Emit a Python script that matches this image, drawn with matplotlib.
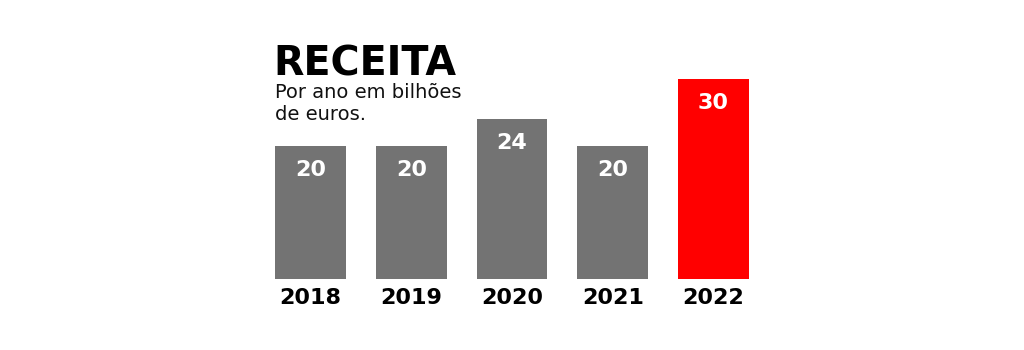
import matplotlib.pyplot as plt

# data
years = ['2018', '2019', '2020', '2021', '2022']
receita = [20, 20, 24, 20, 30]
colors = ['#737373', '#737373', '#737373', '#737373', '#ff0000']

plt.rcParams['font.family'] = ['DejaVu Sans']

fig = plt.figure(figsize=(10.24, 3.5), dpi=100)
ax = fig.add_axes([0, 0, 1, 1])

pos = list(range(len(years)))
ax.bar(pos, receita, width=0.70, color=colors)

# px scale: bars 100.75 px apart, 6.67 px per unit
ax.set_xlim(-310.5 / 100.75, (1024 - 310.5) / 100.75)
ax.set_ylim(-71 / 6.67, 279 / 6.67)
ax.axis('off')

for x, v, y in zip(pos, receita, years):
    ax.text(x, v - 2.1, str(v), ha='center', va='top', color='white',
            fontsize=16, fontweight='bold')
    ax.text(x, -1.4, y, ha='center', va='top', color='black',
            fontsize=16, fontweight='bold')

fig.text(273 / 1024, 1 - 75 / 350, 'RECEITA', ha='left', va='baseline',
         fontsize=28.5, fontweight='bold', color='black')
fig.text(275 / 1024, 1 - 120 / 350, 'Por ano em bilhões\nde euros.', ha='left',
         va='baseline', fontsize=14, color='#111111', linespacing=1.2)

fig.savefig('out.png', dpi=100, facecolor='white')
